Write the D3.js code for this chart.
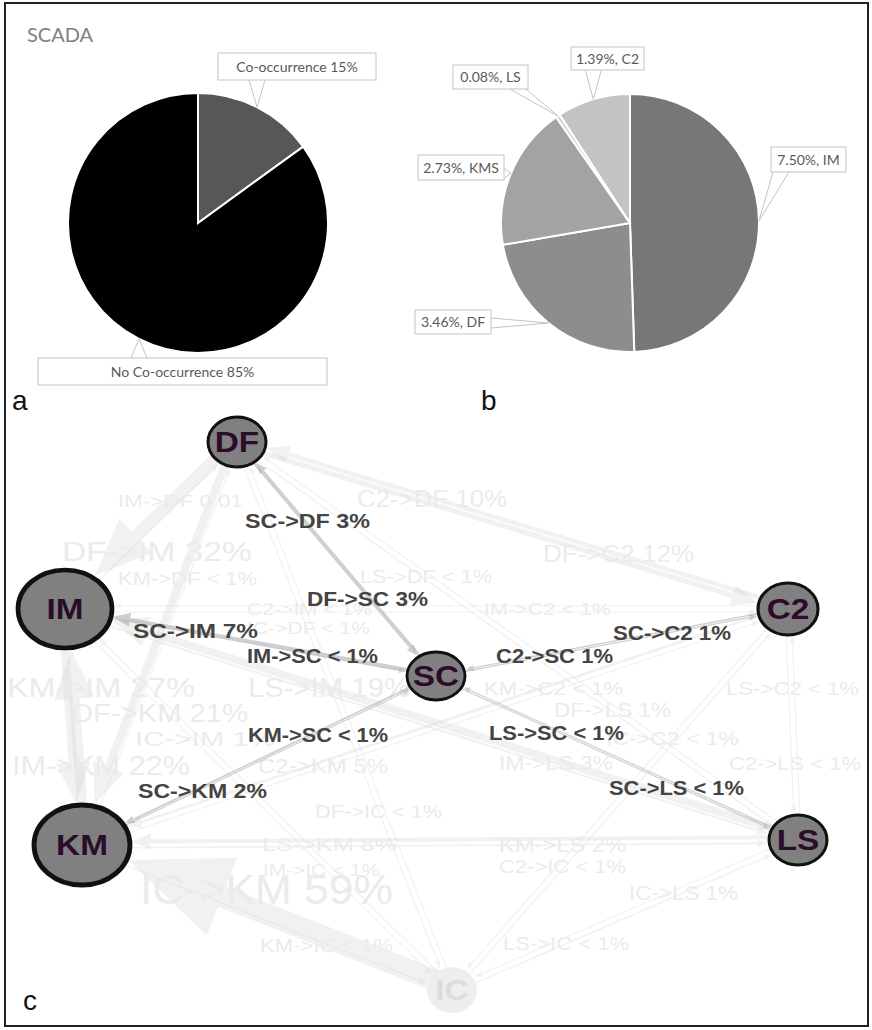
<!DOCTYPE html>
<html>
<head>
<meta charset="utf-8">
<script src="https://cdn.jsdelivr.net/npm/d3@7"></script>
<style>
  body { margin: 0; background: #fff; }
  svg { display: block; }
</style>
</head>
<body>
<svg id="fig" width="872" height="1030"></svg>
<script>
// ---- Panel a: SCADA records with / without co-occurrence (%)
const occurrenceLabels = ["Co-occurrence", "No Co-occurrence"];
const occurrenceShares = [15, 85];

// ---- Panel b: co-occurrence share by alarm type (%)
const alarmTypes = ["IM", "DF", "KMS", "LS", "C2"];
const alarmShares = [7.50, 3.46, 2.73, 0.08, 1.39];

// ---- Panel c: alarm transition network
const nodeNames = ["DF", "IM", "SC", "C2", "KM", "LS", "IC"];
const focusNode = "SC";
const linkFrom = ["SC","DF","SC","IM","C2","SC","KM","LS","SC","SC",
                  "IM","C2","DF","DF","KM","LS","C2","IC","IM","LS",
                  "KM","DF","IC","IM","C2","KM","DF","IC","LS","C2",
                  "IM","DF","LS","IM","IC","KM","KM","C2","IC","LS"];
const linkTo   = ["DF","SC","IM","SC","SC","C2","SC","SC","KM","LS",
                  "DF","DF","IM","C2","DF","DF","IM","DF","C2","IM",
                  "IM","KM","IM","KM","KM","C2","LS","C2","C2","LS",
                  "LS","IC","KM","IC","KM","IC","LS","IC","LS","IC"];
// printed value of each transition
const linkText = ["3%","3%","7%","< 1%","1%","1%","< 1%","< 1%","2%","< 1%",
                  "0.01","10%","32%","12%","< 1%","< 1%","< 1%","< 1%","< 1%","19%",
                  "27%","21%","1%","22%","5%","< 1%","1%","< 1%","< 1%","< 1%",
                  "3%","< 1%","8%","< 1%","59%","< 1%","2%","< 1%","1%","< 1%"];
// same values in percent ("< 1%" taken as 0.5)
const linkPct  = [3,3,7,0.5,1,1,0.5,0.5,2,0.5,
                  1,10,32,12,0.5,0.5,0.5,0.5,0.5,19,
                  27,21,1,22,5,0.5,1,0.5,0.5,0.5,
                  3,0.5,8,0.5,59,0.5,2,0.5,1,0.5];

// ---- layout (positions and sizes only)
const nodeLayout = {
  DF: {x: 237, y: 442, rx: 29, ry: 25},
  IM: {x: 65,  y: 609, rx: 47, ry: 39},
  SC: {x: 436, y: 676, rx: 29, ry: 24},
  C2: {x: 788, y: 609, rx: 30, ry: 26},
  KM: {x: 82,  y: 845, rx: 48, ry: 40},
  LS: {x: 798, y: 840, rx: 29, ry: 25},
  IC: {x: 452, y: 990, rx: 25, ry: 23}
};
// [left, baseline, width, font size] for each transition label
const labelLayout = [
  [245,528,125,21],[307,606,121,21],[133,638,125,21],[247,663,131,21],[496,663,117,21],
  [613,640,118,21],[248,742,140,21],[489,740,135,21],[138,798,129,21],[609,795,135,21],
  [118,507,125,17],[357,507,150,23],[62,561,190,28],[543,562,151,23],[118,585,139,18],
  [360,583,132,18],[247,615,125,16],[247,634,123,16],[484,615,127,17],[248,697,162,28],
  [7,697,188,28],[72,722,176,26],[135,746,140,20],[12,775,178,28],[258,773,130,21],
  [484,695,139,19],[554,717,117,20],[606,745,133,19],[726,695,133,19],[729,770,132,19],
  [499,770,114,20],[315,818,127,19],[262,851,135,19],[263,876,117,16],[140,904,253,42],
  [260,952,133,19],[499,852,127,20],[499,873,127,19],[629,900,109,20],[503,950,126,19]
];

const svg = d3.select("#fig");
const pieFont = "Lato, 'Open Sans', sans-serif";
const netFont = "'Liberation Sans', Arial, sans-serif";

// frame
svg.append("rect").attr("x", 5).attr("y", 3).attr("width", 863).attr("height", 1023)
  .attr("fill", "none").attr("stroke", "#222").attr("stroke-width", 2);

// ---------- pie helper with boxed callouts
function drawPie(cx, cy, r, values, colors, texts, boxes) {
  const g = svg.append("g").attr("transform", `translate(${cx},${cy})`);
  const arcs = d3.pie().sort(null)(values);
  const arc = d3.arc().innerRadius(0).outerRadius(r);
  g.selectAll("path.slice").data(arcs).join("path")
    .attr("class", "slice")
    .attr("d", arc)
    .attr("fill", (d, i) => colors[i])
    .attr("stroke", "#fff").attr("stroke-width", 2);

  arcs.forEach((d, i) => {
    const mid = (d.startAngle + d.endAngle) / 2;
    const ax = cx + Math.sin(mid) * r, ay = cy - Math.cos(mid) * r;
    const [bx, by, bw, bh] = boxes[i];
    let p1, p2;
    const clamp = (v, lo, hi) => Math.max(lo, Math.min(hi, v));
    if (ay > by + bh) {
      const xm = clamp(ax, bx + 10, bx + bw - 10);
      p1 = [xm - 8, by + bh]; p2 = [xm + 8, by + bh];
    } else if (ay < by) {
      const xm = clamp(ax, bx + 10, bx + bw - 10);
      p1 = [xm - 8, by]; p2 = [xm + 8, by];
    } else if (ax > bx + bw) {
      const ym = clamp(ay, by + 6, by + bh - 6);
      p1 = [bx + bw, ym - 5]; p2 = [bx + bw, ym + 5];
    } else {
      const ym = clamp(ay, by + 6, by + bh - 6);
      p1 = [bx, ym - 5]; p2 = [bx, ym + 5];
    }
    svg.append("path")
      .attr("d", `M${p1[0]},${p1[1]}L${ax},${ay}L${p2[0]},${p2[1]}`)
      .attr("fill", "#fff").attr("stroke", "#c4c4c4").attr("stroke-width", 1);
    svg.append("rect").attr("x", bx).attr("y", by).attr("width", bw).attr("height", bh)
      .attr("fill", "#fff").attr("stroke", "#c4c4c4").attr("stroke-width", 1);
    svg.append("text").attr("x", bx + bw / 2).attr("y", by + bh / 2 + 5)
      .attr("text-anchor", "middle")
      .attr("font-family", pieFont).attr("font-size", 14).attr("fill", "#5a5a5a")
      .text(texts[i]);
  });
}

// Panel a
svg.append("text").attr("x", 27).attr("y", 42)
  .attr("font-family", pieFont).attr("font-size", 20).attr("fill", "#808080").text("SCADA");
drawPie(198, 223, 130, occurrenceShares, ["#575757", "#000000"],
  occurrenceLabels.map((l, i) => `${l} ${occurrenceShares[i]}%`),
  [[218, 53, 158, 27], [38, 358, 289, 27]]);

// Panel b
drawPie(630, 223, 129, alarmShares, ["#777777", "#8d8d8d", "#a3a3a3", "#d4d4d4", "#c3c3c3"],
  alarmTypes.map((t, i) => `${alarmShares[i].toFixed(2)}%, ${t}`),
  [[771, 147, 75, 25], [415, 310, 76, 24], [418, 155, 86, 25], [453, 65, 75, 24], [571, 47, 73, 23]]);

// ---------- Panel c: network
const links = linkFrom.map((f, i) => ({
  from: f, to: linkTo[i], pct: linkPct[i],
  label: `${f}->${linkTo[i]} ${linkText[i]}`,
  pos: labelLayout[i],
  focus: f === focusNode || linkTo[i] === focusNode
}));
const linked = new Set([focusNode]);
links.filter(l => l.focus).forEach(l => { linked.add(l.from); linked.add(l.to); });

const widthScale = d3.scaleLinear().domain([0, 60]).range([1, 22]);
const headLen = d3.scaleLinear().domain([0, 60]).range([6, 102]);
const headWid = d3.scaleLinear().domain([0, 60]).range([5, 85]);

function geom(l) {
  const a = nodeLayout[l.from], b = nodeLayout[l.to];
  const dx = b.x - a.x, dy = b.y - a.y, len = Math.hypot(dx, dy);
  const ux = dx / len, uy = dy / len, nx = -uy, ny = ux;
  const off = l.focus ? 1 : 3;
  const t = 1 / Math.sqrt((ux / b.rx) ** 2 + (uy / b.ry) ** 2) + 2;
  const tip = [b.x - ux * t + nx * off, b.y - uy * t + ny * off];
  const L = headLen(l.pct), W = headWid(l.pct);
  const base = [tip[0] - ux * L, tip[1] - uy * L];
  return {
    start: [a.x + nx * off, a.y + ny * off],
    base,
    head: [tip, [base[0] + nx * W / 2, base[1] + ny * W / 2], [base[0] - nx * W / 2, base[1] - ny * W / 2]]
  };
}
links.forEach(l => l.g = geom(l));

function drawEdges(sel, color, opacity) {
  const g = svg.append("g");
  g.selectAll("line").data(sel).join("line")
    .attr("x1", d => d.g.start[0]).attr("y1", d => d.g.start[1])
    .attr("x2", d => d.g.base[0]).attr("y2", d => d.g.base[1])
    .attr("stroke", color).attr("stroke-opacity", opacity)
    .attr("stroke-width", d => widthScale(d.pct));
  g.selectAll("path").data(sel).join("path")
    .attr("d", d => "M" + d.g.head.map(p => p.join(",")).join("L") + "Z")
    .attr("fill", color).attr("fill-opacity", opacity);
}
function drawLabels(sel, color, weight) {
  svg.append("g").selectAll("text").data(sel).join("text")
    .attr("x", d => d.pos[0]).attr("y", d => d.pos[1])
    .attr("textLength", d => d.pos[2]).attr("lengthAdjust", "spacingAndGlyphs")
    .attr("font-family", netFont).attr("font-weight", weight)
    .attr("font-size", d => d.pos[3]).attr("fill", color)
    .text(d => d.label);
}

const background = links.filter(l => !l.focus);
const foreground = links.filter(l => l.focus);

drawEdges(background, "#cdcdcd", 0.28);
drawLabels(background, "#ebebeb", "normal");
drawEdges(foreground, "#a8a8a8", 0.55);

// nodes
const nodes = nodeNames.map(n => ({name: n, ...nodeLayout[n], dim: !linked.has(n)}));
const ng = svg.append("g").selectAll("g").data(nodes).join("g")
  .attr("transform", d => `translate(${d.x},${d.y})`);
ng.append("ellipse")
  .attr("rx", d => d.rx).attr("ry", d => d.ry)
  .attr("fill", d => d.dim ? "#eeeeee" : "#808080")
  .attr("stroke", d => d.dim ? "none" : "#111")
  .attr("stroke-width", d => d.ry * 0.12);
ng.append("text")
  .attr("text-anchor", "middle").attr("y", 10)
  .attr("transform", "scale(1.15,1)")
  .attr("font-family", netFont).attr("font-weight", "bold").attr("font-size", 29)
  .attr("fill", d => d.dim ? "#dcdcdc" : "#2b0d2b")
  .text(d => d.name);

drawLabels(foreground, "#444", "bold");

// panel letters
[["a", 12, 410], ["b", 481, 410], ["c", 23, 1010]].forEach(([t, x, y]) =>
  svg.append("text").attr("x", x).attr("y", y)
    .attr("font-family", netFont).attr("font-size", 28).attr("fill", "#111").text(t));
</script>
</body>
</html>
